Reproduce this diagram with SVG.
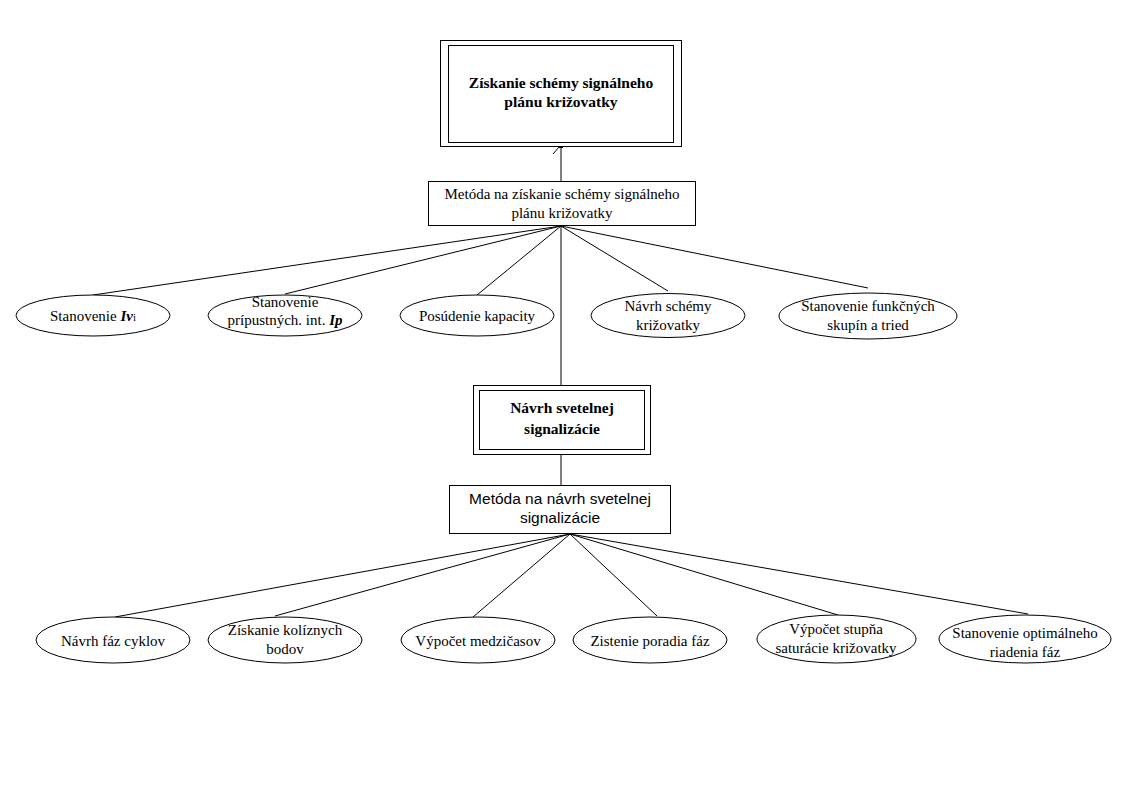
<svg xmlns="http://www.w3.org/2000/svg" width="1122" height="793" viewBox="0 0 1122 793">
<style>
.bx{fill:#fff;stroke:#000;stroke-width:1}
.el{fill:#fff;stroke:#000;stroke-width:1}
.ln{stroke:#000;stroke-width:1;fill:none}
.t{font-family:"Liberation Serif","Times New Roman",serif;font-size:15px;fill:#000;text-anchor:middle}
.tb{font-family:"Liberation Serif","Times New Roman",serif;font-size:15.5px;font-weight:bold;fill:#000;text-anchor:middle}
.ts{font-family:"Liberation Sans",Arial,sans-serif;font-size:15.5px;fill:#000;text-anchor:middle}
</style>
<rect width="1122" height="793" fill="#fff"/>
<g id="connectors">
<line class="ln" x1="561" y1="181" x2="561" y2="146"/>
<rect x="559" y="144" width="4" height="4" fill="#000"/>
<line class="ln" x1="553" y1="154" x2="559" y2="147"/>
<line class="ln" x1="561" y1="226" x2="93" y2="295"/>
<line class="ln" x1="561" y1="226" x2="285" y2="294"/>
<line class="ln" x1="561" y1="226" x2="477" y2="295"/>
<line class="ln" x1="561" y1="226" x2="668" y2="291"/>
<line class="ln" x1="561" y1="226" x2="868" y2="288"/>
<line class="ln" x1="561" y1="226" x2="561" y2="385"/>
<line class="ln" x1="561" y1="455" x2="561" y2="485"/>
<line class="ln" x1="570" y1="534" x2="115" y2="617"/>
<line class="ln" x1="570" y1="534" x2="275" y2="616"/>
<line class="ln" x1="570" y1="534" x2="473" y2="617"/>
<line class="ln" x1="570" y1="534" x2="657" y2="616"/>
<line class="ln" x1="570" y1="534" x2="838" y2="615"/>
<line class="ln" x1="570" y1="534" x2="1028" y2="614"/>
</g>
<g id="n-top">
<rect class="bx" x="440.5" y="40.5" width="241" height="106"/>
<rect class="bx" x="448.5" y="45.5" width="225" height="97" stroke="#333" stroke-width="1.5"/>
<line class="ln" x1="440.5" y1="93" x2="440.5" y2="101" stroke-width="2"/>
<line class="ln" x1="681.5" y1="88" x2="681.5" y2="96" stroke="#888" stroke-width="2"/>
<text class="tb" x="561" y="88">Získanie schémy signálneho</text>
<text class="tb" x="561" y="107">plánu križovatky</text>
</g>
<g id="n-metoda1">
<rect class="bx" x="428.5" y="181.5" width="267" height="44"/>
<text class="t" x="562" y="199">Metóda na získanie schémy signálneho</text>
<text class="t" x="562" y="218">plánu križovatky</text>
</g>
<g id="n-iv">
<ellipse class="el" cx="93" cy="315.5" rx="77" ry="20.5"/>
<text class="t" x="93" y="321">Stanovenie <tspan font-weight="bold" font-style="italic">Iv</tspan><tspan font-size="11">i</tspan></text>
</g>
<g id="n-ip">
<ellipse class="el" cx="285" cy="315.5" rx="77" ry="20.5"/>
<text class="t" x="285" y="307">Stanovenie</text>
<text class="t" x="285" y="325">prípustných. int. <tspan font-weight="bold" font-style="italic">Ip</tspan></text>
</g>
<g id="n-kap">
<ellipse class="el" cx="477" cy="315.5" rx="77" ry="20.5"/>
<text class="t" x="477" y="321">Posúdenie kapacity</text>
</g>
<g id="n-schema">
<ellipse class="el" cx="668" cy="315.5" rx="77" ry="22"/>
<text class="t" x="668" y="311">Návrh schémy</text>
<text class="t" x="668" y="330">križovatky</text>
</g>
<g id="n-funk">
<ellipse class="el" cx="868" cy="316" rx="89" ry="23"/>
<text class="t" x="868" y="311">Stanovenie funkčných</text>
<text class="t" x="868" y="330">skupín a tried</text>
</g>
<g id="n-navrh">
<rect class="bx" x="473.5" y="385.5" width="177" height="69"/>
<rect class="bx" x="479.5" y="390.5" width="165" height="59" stroke="#333" stroke-width="1.5"/>
<text class="tb" x="562" y="413">Návrh svetelnej</text>
<text class="tb" x="562" y="434">signalizácie</text>
</g>
<g id="n-metoda2">
<rect class="bx" x="449.5" y="485.5" width="221" height="48"/>
<text class="ts" x="560" y="504">Metóda na návrh svetelnej</text>
<text class="ts" x="560" y="523">signalizácie</text>
</g>
<g id="n-faz">
<ellipse class="el" cx="113" cy="640" rx="77" ry="23"/>
<text class="t" x="113" y="646">Návrh fáz cyklov</text>
</g>
<g id="n-kol">
<ellipse class="el" cx="285" cy="640" rx="77" ry="23"/>
<text class="t" x="285" y="635">Získanie kolíznych</text>
<text class="t" x="285" y="654">bodov</text>
</g>
<g id="n-medz">
<ellipse class="el" cx="478" cy="640" rx="77" ry="23"/>
<text class="t" x="478" y="646">Výpočet medzičasov</text>
</g>
<g id="n-por">
<ellipse class="el" cx="650" cy="640" rx="77" ry="23"/>
<text class="t" x="650" y="646">Zistenie poradia fáz</text>
</g>
<g id="n-sat">
<ellipse class="el" cx="836.5" cy="639" rx="79.5" ry="24"/>
<text class="t" x="836" y="634">Výpočet stupňa</text>
<text class="t" x="836" y="653">saturácie križovatky</text>
</g>
<g id="n-opt">
<ellipse class="el" cx="1025" cy="639" rx="86" ry="24"/>
<text class="t" x="1025" y="638">Stanovenie optimálneho</text>
<text class="t" x="1025" y="657">riadenia fáz</text>
</g>
</svg>
